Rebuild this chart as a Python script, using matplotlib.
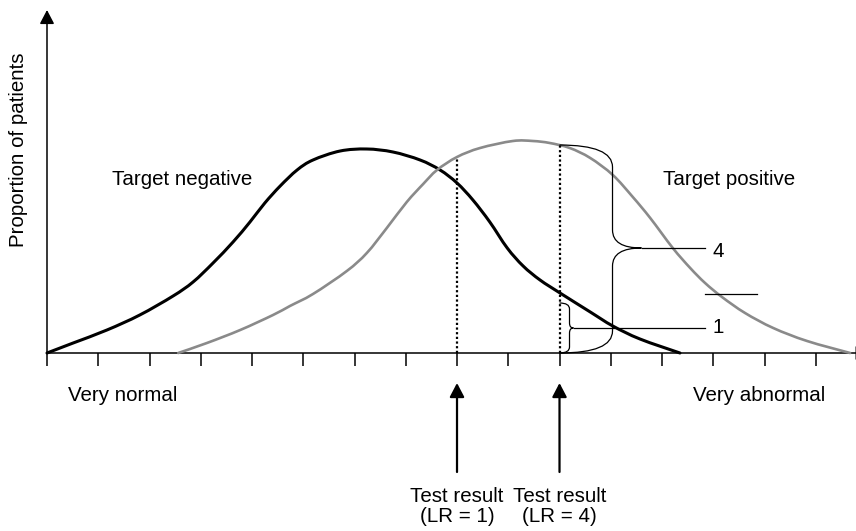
import matplotlib
matplotlib.use("Agg")
import matplotlib.pyplot as plt
from matplotlib.patches import FancyArrowPatch, PathPatch
from matplotlib.path import Path

plt.rcParams['font.family'] = ['Liberation Sans', 'DejaVu Sans']

# ---- data (x in tick units, y in arbitrary proportion units) ----
neg_x = [0.00, 0.51, 1.17, 1.81, 2.46, 2.85, 3.24, 3.63, 3.96, 4.25, 4.55, 4.88, 5.19,
         5.72, 6.24, 6.75, 7.28, 7.67, 8.00, 8.31, 8.64, 8.98, 9.29, 9.62, 10.01,
         10.60, 11.04, 11.57, 12.35]
neg_y = [0.00, 0.10, 0.23, 0.38, 0.57, 0.71, 0.90, 1.11, 1.31, 1.50, 1.67, 1.83, 1.93,
         2.02, 2.04, 2.01, 1.93, 1.83, 1.70, 1.53, 1.31, 1.05, 0.87, 0.73, 0.60,
         0.41, 0.27, 0.14, 0.00]

pos_x = [2.56, 3.12, 3.77, 4.41, 4.74, 5.19, 5.85, 6.24, 6.63, 7.02, 7.34, 7.61, 8.00,
         8.45, 9.09, 9.48, 9.81, 10.20, 10.60, 11.04, 11.43, 11.77, 12.21, 12.55,
         12.84, 13.17, 13.62, 14.17, 14.83, 15.67]
pos_y = [0.00, 0.10, 0.23, 0.38, 0.47, 0.59, 0.82, 1.00, 1.25, 1.51, 1.69, 1.83, 1.96,
         2.05, 2.12, 2.12, 2.10, 2.05, 1.95, 1.78, 1.56, 1.35, 1.05, 0.85,
         0.70, 0.56, 0.40, 0.25, 0.12, 0.00]

tick_positions = list(range(16))
test_x = [8, 10]
test_tops = [1.96, 2.08]
test_labels = ["(LR = 1)", "(LR = 4)"]

big_brace = dict(lo=0.0, hi=2.08, mid=1.05)
small_brace = dict(lo=0.0, hi=0.50, mid=0.25)
lr_values = ["4", "1"]

# ---- figure: axes spans the whole canvas ----
fig = plt.figure(figsize=(8.56, 5.31), dpi=100)
ax = fig.add_axes([0, 0, 1, 1])
ax.set_xlim(-0.917, 15.785)
ax.set_ylim(-1.78, 3.53)
ax.axis('off')

px_x = 1 / 51.25   # one pixel in x data units
px_y = 1 / 100.0   # one pixel in y data units


def smooth_path(xs, ys):
    """Bezier path passing through the given points (Catmull-Rom style handles)."""
    pts = list(zip(xs, ys))
    verts = [pts[0]]
    codes = [Path.MOVETO]
    n = len(pts)
    for i in range(n - 1):
        p0 = pts[i - 1] if i > 0 else pts[i]
        p1 = pts[i]
        p2 = pts[i + 1]
        p3 = pts[i + 2] if i + 2 < n else pts[i + 1]
        c1 = (p1[0] + (p2[0] - p0[0]) / 6, p1[1] + (p2[1] - p0[1]) / 6)
        c2 = (p2[0] - (p3[0] - p1[0]) / 6, p2[1] - (p3[1] - p1[1]) / 6)
        verts += [c1, c2, p2]
        codes += [Path.CURVE4] * 3
    return Path(verts, codes)


# axes with arrows
ax.add_patch(FancyArrowPatch((0, 0), (0, 3.43), arrowstyle='-|>,head_length=0.42,head_width=0.22',
                             mutation_scale=20, lw=1.1, color='black', shrinkA=0, shrinkB=0))
ax.add_patch(FancyArrowPatch((0, 0), (16.05, 0), arrowstyle='-|>,head_length=0.42,head_width=0.22',
                             mutation_scale=20, lw=1.1, color='black', shrinkA=0, shrinkB=0,
                             clip_on=False))
# tick marks below the axis
ax.vlines(tick_positions, -0.13, 0, color='black', lw=1.1)

# curves
ax.add_patch(PathPatch(smooth_path(neg_x, neg_y), fill=False, lw=2.2, edgecolor='black',
                       capstyle='round', joinstyle='round'))
ax.add_patch(PathPatch(smooth_path(pos_x, pos_y), fill=False, lw=1.9, edgecolor='#8a8a8a',
                       capstyle='round', joinstyle='round'))

# dotted vertical lines
for x, top in zip(test_x, test_tops):
    ax.plot([x, x], [0, top], color='black', lw=1.6, linestyle=(0, (1, 1.1)))

# braces
def brace(x0, x1, x2, lo, hi, mid, ry_end, ry_mid):
    verts = [(x0, hi), (x1, hi), (x1, hi - ry_end),
             (x1, mid + ry_mid),
             (x1, mid), (x2, mid),
             (x1, mid), (x1, mid - ry_mid),
             (x1, lo + ry_end),
             (x1, lo), (x0, lo)]
    codes = [Path.MOVETO, Path.CURVE3, Path.CURVE3, Path.LINETO, Path.CURVE3, Path.CURVE3,
             Path.CURVE3, Path.CURVE3, Path.LINETO, Path.CURVE3, Path.CURVE3]
    ax.add_patch(PathPatch(Path(verts, codes), fill=False, lw=0.9, edgecolor='black'))

brace(10.0, 10.0 + 53 * px_x, 10.0 + 82 * px_x,
      big_brace['lo'], big_brace['hi'], big_brace['mid'], 22 * px_y, 18 * px_y)
brace(10.0, 10.0 + 10 * px_x, 10.0 + 14 * px_x,
      small_brace['lo'], small_brace['hi'], small_brace['mid'], 6 * px_y, 5 * px_y)

# leader lines to labels
ax.plot([10.0 + 82 * px_x, 12.84], [big_brace['mid']] * 2, color='black', lw=0.9)
ax.plot([10.0 + 14 * px_x, 12.84], [small_brace['mid']] * 2, color='black', lw=0.9)
ax.plot([12.84, 13.85], [0.59, 0.59], color='black', lw=0.9)

fs = 14.8
ax.text(12.98, 0.96, lr_values[0], fontsize=fs, ha='left', va='baseline')
ax.text(12.98, 0.20, lr_values[1], fontsize=fs, ha='left', va='baseline')

# arrows under the axis
for x, lab in zip(test_x, test_labels):
    ax.add_patch(FancyArrowPatch((x, -1.19), (x, -0.30),
                                 arrowstyle='-|>,head_length=0.42,head_width=0.22',
                                 mutation_scale=20, lw=1.6, color='black', shrinkA=0, shrinkB=0))
    ax.text(x, -1.49, "Test result", fontsize=fs, ha='center', va='baseline')
    ax.text(x, -1.69, lab, fontsize=fs, ha='center', va='baseline')

# labels
ax.text(1.27, 1.68, "Target negative", fontsize=fs, ha='left', va='baseline')
ax.text(12.02, 1.68, "Target positive", fontsize=fs, ha='left', va='baseline')
ax.text(0.41, -0.48, "Very normal", fontsize=fs, ha='left', va='baseline')
ax.text(12.60, -0.48, "Very abnormal", fontsize=fs, ha='left', va='baseline')
ax.text(-0.55, 2.03, "Proportion of patients", fontsize=fs, rotation=90,
        ha='center', va='center')

fig.savefig("out.png", dpi=100)
